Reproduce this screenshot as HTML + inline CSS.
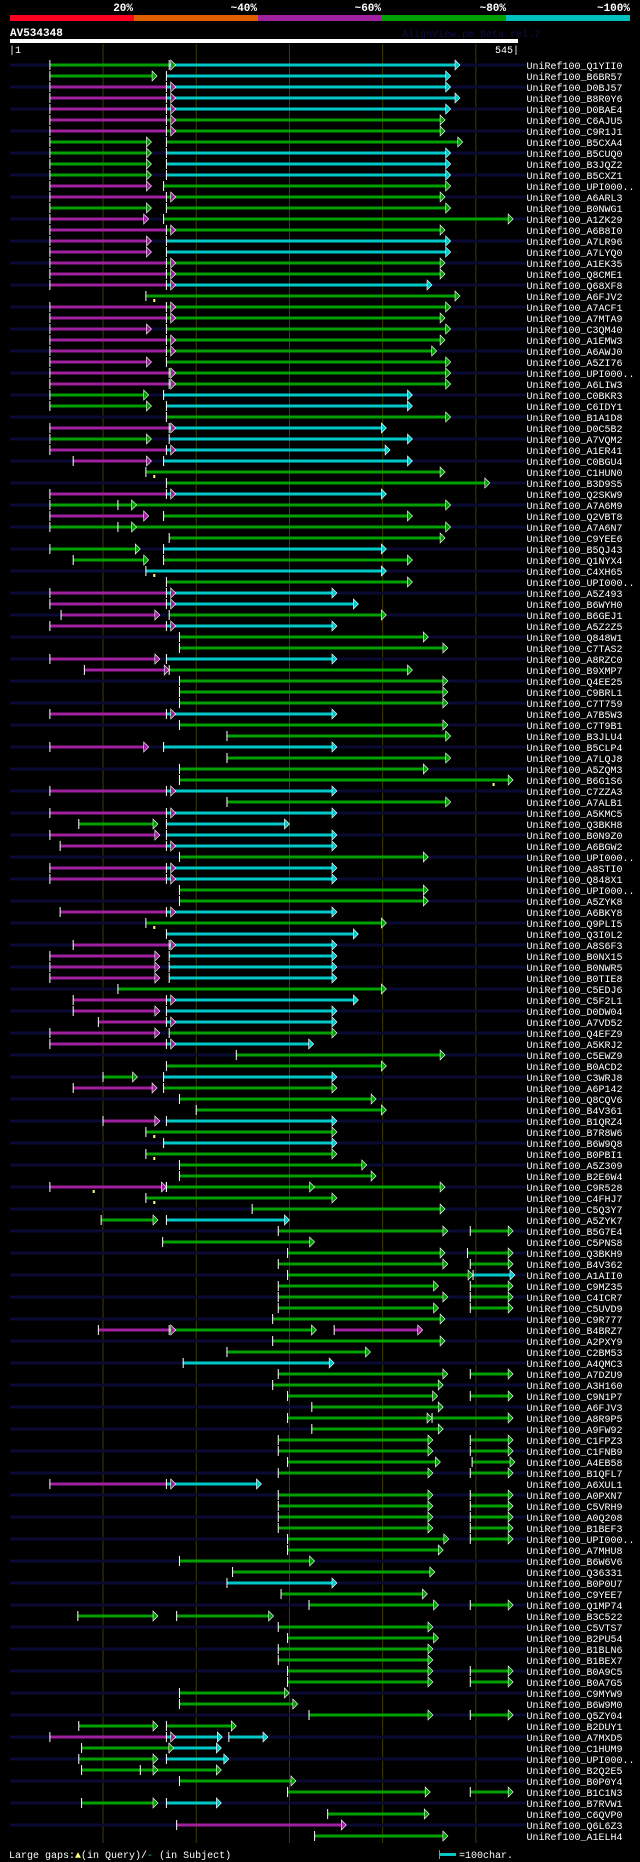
<!DOCTYPE html>
<html><head><meta charset="utf-8"><style>
html,body{margin:0;padding:0;background:#000;}
svg{display:block;}
text{font-family:"Liberation Mono","DejaVu Sans Mono",monospace;fill:#fff;}
</style></head><body>
<svg id="chart" width="640" height="1862" viewBox="0 0 640 1862" xmlns="http://www.w3.org/2000/svg">
<g>
<rect x="10" y="15" width="124" height="6" fill="#ff0020"/>
<rect x="134" y="15" width="124" height="6" fill="#e06000"/>
<rect x="258" y="15" width="124" height="6" fill="#a020a0"/>
<rect x="382" y="15" width="124" height="6" fill="#00a000"/>
<rect x="506" y="15" width="124" height="6" fill="#00c0c0"/>
<text x="133" y="11" font-size="11" font-weight="bold" text-anchor="end">20%</text>
<text x="257" y="11" font-size="11" font-weight="bold" text-anchor="end">~40%</text>
<text x="381" y="11" font-size="11" font-weight="bold" text-anchor="end">~60%</text>
<text x="506" y="11" font-size="11" font-weight="bold" text-anchor="end">~80%</text>
<text x="630" y="11" font-size="11" font-weight="bold" text-anchor="end">~100%</text>
</g>
<text x="10" y="36" font-size="11" font-weight="bold">AV534348</text>
<text x="402" y="37" font-size="10" style="fill:#101048">AlignView.pm Beta rel.7</text>
<rect x="10" y="39" width="508" height="4" fill="#fff"/>
<text x="9" y="53" font-size="10">|1</text>
<text x="519" y="53" font-size="10" text-anchor="end">545|</text>
<g id="grid"></g>
<g id="rows"></g>
<g>
<text x="9" y="1858" font-size="10">Large gaps:<tspan style="fill:#ffff80">▲</tspan>(in Query)/<tspan style="fill:#00c8c8">-</tspan> (in Subject)</text>
<rect x="440" y="1853" width="16" height="3" fill="#00c8c8"/>
<rect x="439" y="1850" width="1" height="9" fill="#a0a000"/>
<text x="459" y="1858" font-size="10">=100char.</text>
</g>
</svg>
<script>
const queryLength = 545;
const gridTicks = [100, 200, 300, 400, 500];
const names = ["Q1YII0","B6BR57","D0BJ57","B8R0Y6","D0BAE4","C6AJU5","C9R1J1","B5CXA4","B5CUQ0","B3JQZ2","B5CXZ1","UPI000..","A6ARL3","B0NWG1","A1ZK29","A6B8I0","A7LR96","A7LYQ0","A1EK35","Q8CME1","Q68XF8","A6FJV2","A7ACF1","A7MTA9","C3QM40","A1EMW3","A6AWJ0","A5ZI76","UPI000..","A6LIW3","C0BKR3","C6IDY1","B1A1D8","D0C5B2","A7VQM2","A1ER41","C0BGU4","C1HUN0","B3D9S5","Q2SKW9","A7A6M9","Q2VBT8","A7A6N7","C9YEE6","B5QJ43","Q1NYX4","C4XH65","UPI000..","A5Z493","B6WYH0","B6GEJ1","A5Z2Z5","Q848W1","C7TAS2","A8RZC0","B9XMP7","Q4EE25","C9BRL1","C7T759","A7B5W3","C7T9B1","B3JLU4","B5CLP4","A7LQJ8","A5ZQM3","B6G1S6","C7ZZA3","A7ALB1","A5KMC5","Q3BKH8","B0N9Z0","A6BGW2","UPI000..","A8STI0","Q848X1","UPI000..","A5ZYK8","A6BKY8","Q9PLI5","Q3I0L2","A8S6F3","B0NX15","B0NWR5","B0TIE8","C5EDJ6","C5F2L1","D0DW04","A7VD52","Q4EFZ9","A5KRJ2","C5EWZ9","B0ACD2","C3WRJ8","A6P142","Q8CQV6","B4V361","B1QRZ4","B7R8W6","B6W9Q8","B0PBI1","A5Z309","B2E6W4","C9R528","C4FHJ7","C5Q3Y7","A5ZYK7","B5G7E4","C5PNS8","Q3BKH9","B4V362","A1AII0","C9MZ35","C4ICR7","C5UVD9","C9R777","B4BRZ7","A2PXY9","C2BM53","A4QMC3","A7DZU9","A3H160","C9N1P7","A6FJV3","A8R9P5","A9FW92","C1FPZ3","C1FNB9","A4EB58","B1QFL7","A6XUL1","A0PXN7","C5VRH9","A0Q208","B1BEF3","UPI000..","A7MHU8","B6W6V6","Q36331","B0P0U7","C9YEE7","Q1MP74","B3C522","C5VTS7","B2PU54","B1BLN6","B1BEX7","B0A9C5","B0A7G5","C9MYW9","B6W9M0","Q5ZY04","B2DUY1","A7MXD5","C1HUM9","UPI000..","B2Q2E5","B0P0Y4","B1C1N3","B7RVW1","C6QVP0","Q6L6Z3","A1ELH4"];
// segments per row: "colour:start-end" (query positions)
const segStrings = [
"g:43-178 c:171-483","g:43-158 c:168-473","m:43-178 c:168-473","m:43-178 c:168-483","m:43-178 c:168-473",
"m:43-178 g:168-467","m:43-178 g:168-467","g:43-152 g:168-486","g:43-152 c:168-473","g:43-152 c:168-473",
"g:43-152 c:168-473","m:43-152 g:165-473","m:43-178 g:168-467","g:43-152 g:168-473","m:43-149 g:165-540",
"m:43-178 g:168-467","m:43-152 c:168-473","m:43-152 c:168-473","m:43-178 g:168-467","m:43-178 g:168-467",
"m:43-178 c:168-453","g:146-483","m:43-178 g:168-473","m:43-178 g:168-467","m:43-152 g:168-473",
"m:43-178 g:168-467","m:43-178 g:168-458","m:43-152 g:168-473","m:43-178 g:171-473","m:43-178 g:171-473",
"g:43-149 c:165-432","g:43-152 c:168-432","g:168-473","m:43-178 c:171-404","g:43-152 c:171-432",
"m:43-178 c:168-408","m:68-152 c:165-432","g:146-467","g:168-515","m:43-178 c:168-404",
"g:43-136 g:116-473","m:43-149 g:165-432","g:43-136 g:116-473","g:171-467","g:43-140 c:165-404",
"g:68-149 g:165-432","c:146-404","g:168-432","m:43-178 c:168-351","m:43-178 c:168-374",
"m:55-161 g:171-404","m:43-178 c:168-351","g:182-449","g:182-470","m:43-161 c:168-351",
"m:80-171 g:171-432","g:182-470","g:182-470","g:182-470","m:43-178 c:168-351",
"g:182-470","g:233-473","m:43-149 c:165-351","g:233-473","g:182-449",
"g:182-540","m:43-178 c:168-351","g:233-473","m:43-178 c:168-351","g:74-159 c:168-300",
"m:43-161 c:168-351","m:54-178 c:168-351","g:182-449","m:43-178 c:168-351","m:43-178 c:168-351",
"g:182-449","g:182-449","m:54-178 c:168-351","g:146-404","c:168-374",
"m:68-178 c:171-351","m:43-161 c:171-351","m:43-161 c:171-351","m:43-161 c:171-351","g:116-404",
"m:68-178 c:168-374","m:68-161 c:168-351","m:95-178 c:168-351","m:43-161 g:171-351","m:43-178 c:168-326",
"g:243-467","g:168-404","g:100-137 c:165-351","m:68-158 g:165-351","g:182-393",
"g:200-404","m:100-161 c:168-351","g:146-351","c:165-351","g:146-351",
"g:182-383","g:182-393","m:43-168 g:168-327 g:168-467","g:146-351","g:260-467",
"g:98-159 c:168-300","g:288-470 g:494-540","g:164-327","g:298-467 g:491-540","g:288-470 g:494-540",
"g:298-497 c:497-542","g:288-460 g:494-540","g:288-470 g:494-540","g:288-460 g:494-540","g:282-467",
"m:95-178 g:171-329 m:348-443","g:282-467","g:233-387","c:186-348","g:288-470 g:494-540",
"g:282-465","g:298-459 g:494-540","g:324-465","g:298-453 g:453-540","g:324-465",
"g:288-454 g:494-540","g:288-454 g:494-540","g:298-462 g:496-542","g:288-454 g:494-540","m:43-178 c:168-270",
"g:288-454 g:494-540","g:288-454 g:494-540","g:288-454 g:494-540","g:288-454 g:494-540","g:298-471 g:494-540",
"g:298-465","g:182-327","g:239-456","c:233-351","g:291-448",
"g:321-460 g:494-540","g:73-159 g:179-283","g:288-454","g:298-460","g:288-454",
"g:288-454","g:298-454 g:494-540","g:298-454 g:494-540","g:182-300","g:182-309",
"g:321-454 g:494-540","g:74-159 g:168-243","m:43-178 c:168-228 c:235-277","g:77-176 c:171-227","g:74-159 c:168-235",
"g:77-159 g:140-227","g:182-307","g:298-451 g:494-540","g:77-159 c:168-227","g:341-450",
"m:179-361","g:327-470"];
const queryGapRows = [21, 37, 46, 78, 97, 99, 102, 103, 65];
const queryGapPos = [155, 155, 155, 155, 155, 155, 90, 155, 519];

const COL = {g:"#00a000", c:"#00c8c8", m:"#a020a0"};
const NS = "http://www.w3.org/2000/svg";
function xScale(p){ return 9.8 + p * 508 / queryLength; }
function yRow(i){ return 65 + i * 11; }
function mk(tag, attrs, parent){ const e = document.createElementNS(NS, tag); for (const k in attrs) e.setAttribute(k, attrs[k]); parent.appendChild(e); return e; }

const grid = document.getElementById('grid');
gridTicks.forEach(t => {
  const l = mk('line', {x1: xScale(t), x2: xScale(t), y1: 44, y2: 1843, stroke: '#403c00', 'stroke-width': 1}, grid);
  
  
});

const rowsG = document.getElementById('rows');
names.forEach((nm, i) => {
  const y = yRow(i);
  const g = mk('g', {}, rowsG);
  
  
  if (i % 2 === 0) {
    const bg = mk('rect', {x: 10, y: y - 1.5, width: 516, height: 3, fill: '#0a0a32'}, g);
    
    
  }
  const segs = (segStrings[i] || "").split(' ').filter(Boolean).map(s => { const [c, r] = s.split(':'); const [a, b] = r.split('-').map(Number); return {c, a, b}; });
  segs.forEach(s => {
    const x1 = xScale(s.a), x2 = xScale(s.b);
    const bar = mk('rect', {x: x1, y: y - 1.5, width: Math.max(0, x2 - x1 - 4), height: 3, fill: COL[s.c]}, g);
    
    
    const tk = mk('rect', {x: x1 - 0.5, y: y - 5, width: 1, height: 10, fill: '#fff'}, g);
    
    
  });
  segs.forEach(s => {
    const x2 = xScale(s.b);
    const ar = mk('polygon', {points: `${x2-5},${y-5} ${x2},${y} ${x2-5},${y+5}`, fill: COL[s.c], stroke: '#fff', 'stroke-width': 0.6}, g);
    
    
  });
  const t = mk('text', {x: 526.5, y: y + 4, 'font-size': 10, textLength: (10 + nm.length) * 6, lengthAdjust: 'spacingAndGlyphs'}, g);
  t.textContent = 'UniRef100_' + nm;
  
  
});
queryGapRows.forEach((r, k) => {
  const m = mk('rect', {x: xScale(queryGapPos[k]) - 1, y: yRow(r) + 3, width: 2, height: 3, fill: '#ffff80'}, rowsG);
  
  
});
</script>
</body></html>
